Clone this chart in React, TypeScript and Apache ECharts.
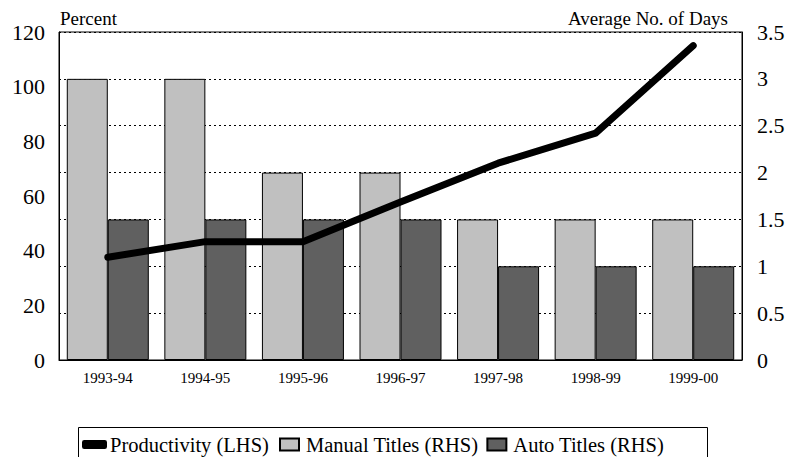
import React, { useEffect, useRef } from "react";
import * as echarts from "echarts";

const categories = ["1993-94", "1994-95", "1995-96", "1996-97", "1997-98", "1998-99", "1999-00"];
const productivity = [37.6, 43.3, 43.3, 57.8, 72, 83, 115];
const manualTitles = [3, 3, 2, 2, 1.5, 1.5, 1.5];
const autoTitles = [1.5, 1.5, 1.5, 1.5, 1, 1, 1];

const FONT = "Liberation Serif";

export default function App() {
  const ref = useRef<HTMLDivElement>(null);
  useEffect(() => {
    if (!ref.current) return;
    const chart = echarts.init(ref.current, undefined, { renderer: "svg" });
    chart.setOption({
      animation: false,
      backgroundColor: "#fff",
      textStyle: { fontFamily: FONT, color: "#000" },
      grid: { left: 59, right: 46, top: 32, bottom: 97, show: true, borderColor: "#000", borderWidth: 1, backgroundColor: "transparent" },
      legend: [
        {
          data: [{ name: "Productivity (LHS)", icon: "roundRect" }],
          left: 82,
          top: 434,
          itemWidth: 25,
          itemHeight: 9,
          padding: 0,
          textStyle: { fontFamily: FONT, fontSize: 20.5, color: "#000", padding: [0, 0, 0, -2] },
        },
        {
          data: [
            { name: "Manual Titles (RHS)", icon: "rect" },
            { name: "Auto Titles (RHS)", icon: "rect" },
          ],
          left: 279,
          top: 434,
          itemWidth: 19,
          itemHeight: 12,
          itemGap: 8,
          padding: 0,
          textStyle: { fontFamily: FONT, fontSize: 20.5, color: "#000", padding: [0, 0, 0, 2] },
        },
      ],
      graphic: [
        {
          type: "rect",
          shape: { x: 78.5, y: 427.5, width: 629, height: 40 },
          style: { fill: "none", stroke: "#000", lineWidth: 1 },
          z: 0,
        },
      ],
      xAxis: {
        type: "category",
        data: categories,
        axisLine: { lineStyle: { color: "#000", width: 1 } },
        axisTick: { show: false },
        axisLabel: { color: "#000", fontSize: 15, fontFamily: FONT, margin: 10 },
      },
      yAxis: [
        {
          type: "value",
          min: 0,
          max: 120,
          interval: 20,
          position: "left",
          name: "Percent",
          nameLocation: "end",
          nameGap: 14,
          nameTextStyle: { color: "#000", fontSize: 19, fontFamily: FONT, align: "left", verticalAlign: "middle", padding: [0, 0, 0, 1] },
          axisLine: { show: true, lineStyle: { color: "#000", width: 1 } },
          axisTick: { show: false },
          splitLine: { show: false },
          axisLabel: { color: "#000", fontSize: 22, fontFamily: FONT, margin: 14, padding: [10, 0, 0, 0] },
        },
        {
          type: "value",
          min: 0,
          max: 3.5,
          interval: 0.5,
          position: "right",
          name: "Average No. of Days",
          nameLocation: "end",
          nameGap: 14,
          nameTextStyle: { color: "#000", fontSize: 19, fontFamily: FONT, align: "right", verticalAlign: "middle", padding: [0, 14, 0, 0] },
          axisLine: { show: true, lineStyle: { color: "#000", width: 1 } },
          axisTick: { show: false },
          splitLine: { show: true, lineStyle: { color: "#000", type: [2, 3], width: 1 } },
          axisLabel: { color: "#000", fontSize: 22, fontFamily: FONT, margin: 15, align: "left", padding: [10, 0, 0, 0] },
        },
      ],
      series: [
        {
          name: "Manual Titles (RHS)",
          type: "bar",
          yAxisIndex: 1,
          data: manualTitles,
          barWidth: 41,
          barGap: "0%",
          itemStyle: { color: "#c0c0c0", borderColor: "#000", borderWidth: 1 },
        },
        {
          name: "Auto Titles (RHS)",
          type: "bar",
          yAxisIndex: 1,
          data: autoTitles,
          barWidth: 41,
          barGap: "0%",
          itemStyle: { color: "#606060", borderColor: "#000", borderWidth: 1 },
        },
        {
          name: "Productivity (LHS)",
          type: "line",
          yAxisIndex: 0,
          data: productivity,
          showSymbol: false,
          symbol: "none",
          lineStyle: { color: "#000", width: 7, cap: "round", join: "round" },
          itemStyle: { color: "#000" },
          z: 5,
        },
      ],
    });
    return () => chart.dispose();
  }, []);
  return <div ref={ref} style={{ width: 788, height: 457, position: "absolute", left: 0, top: 0 }} />;
}
